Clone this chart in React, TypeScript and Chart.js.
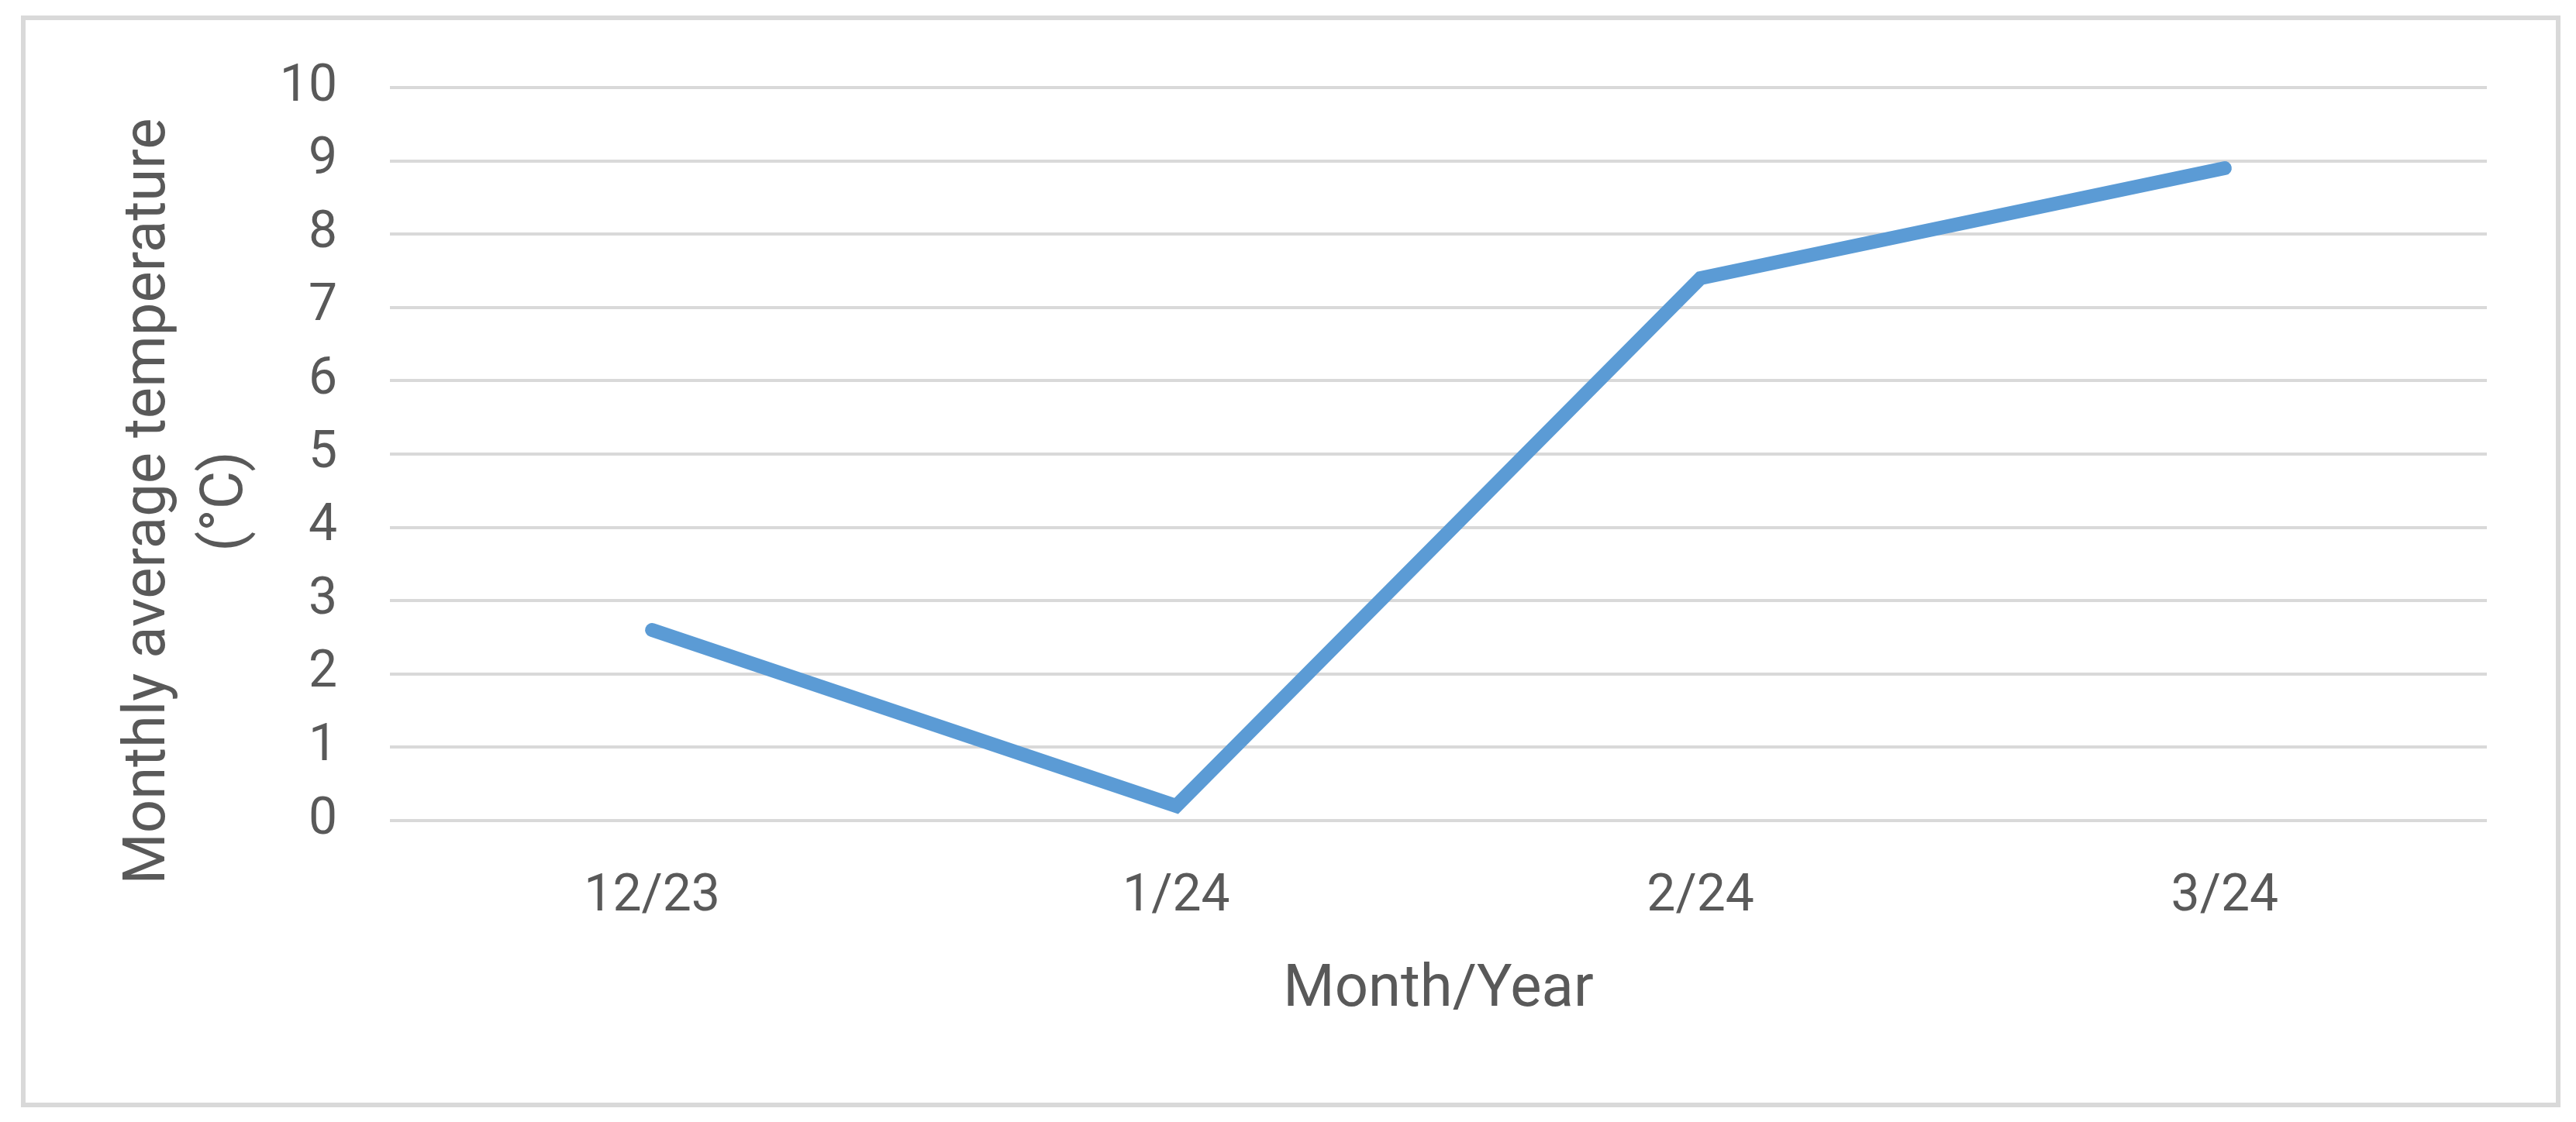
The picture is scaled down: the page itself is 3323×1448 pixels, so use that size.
import React, { useEffect, useRef } from "react";
import { Chart, registerables } from "chart.js";

Chart.register(...registerables);

const categories = ["12/23", "1/24", "2/24", "3/24"];
const temperatures = [2.6, 0.2, 7.4, 8.9];
const yTitleLines = ["Monthly average temperature", "(°C)"];
const xTitleText = "Month/Year";
const yMin = 0;
const yMax = 10;
const yStep = 1;

const W = 3323;
const H = 1448;
const TEXT = "#595959";
const GRID = "#d9d9d9";
const LINE = "#5b9bd5";

export default function App() {
  const ref = useRef<HTMLCanvasElement | null>(null);

  useEffect(() => {
    const canvas = ref.current;
    if (!canvas) return;

    const frame = {
      id: "frame",
      beforeDraw(chart: any) {
        const { ctx } = chart;
        ctx.save();
        ctx.fillStyle = "#ffffff";
        ctx.fillRect(0, 0, chart.width, chart.height);
        ctx.strokeStyle = GRID;
        ctx.lineWidth = 6;
        ctx.strokeRect(30, 23, 3270, 1403);
        ctx.restore();
      },
    };

    const yTitle = {
      id: "yTitle",
      afterDraw(chart: any) {
        const { ctx, chartArea } = chart;
        const cy = (chartArea.top + chartArea.bottom) / 2 + 61;
        ctx.save();
        ctx.font = "76px Roboto";
        ctx.fillStyle = TEXT;
        ctx.textAlign = "center";
        ctx.textBaseline = "alphabetic";
        yTitleLines.forEach((t, i) => {
          ctx.save();
          ctx.translate(chartArea.left - 291 + i * 100, cy);
          ctx.rotate(-Math.PI / 2);
          ctx.fillText(t, 0, 0);
          ctx.restore();
        });
        ctx.restore();
      },
    };

    const chart = new Chart(canvas, {
      type: "line",
      data: {
        labels: categories,
        datasets: [
          {
            data: temperatures,
            borderColor: LINE,
            backgroundColor: LINE,
            borderWidth: 18,
            borderCapStyle: "round",
            borderJoinStyle: "miter",
            pointRadius: 0,
            pointHoverRadius: 0,
            tension: 0,
            fill: false,
          },
        ],
      },
      options: {
        responsive: false,
        animation: false,
        devicePixelRatio: 1,
        layout: { padding: { left: 0, top: 113, right: 115, bottom: 0 } },
        plugins: {
          legend: { display: false },
          tooltip: { enabled: false },
          title: { display: false },
        },
        scales: {
          x: {
            type: "category",
            offset: true,
            grid: { display: false, drawTicks: false },
            border: { display: false },
            ticks: {
              color: TEXT,
              padding: 60,
              maxRotation: 0,
              font: { family: "Roboto", size: 66 },
            },
            title: {
              display: true,
              text: xTitleText,
              color: TEXT,
              font: { family: "Roboto", size: 76 },
              padding: { top: 0, bottom: 123 },
            },
            afterFit(scale: any) {
              scale.height = 389;
            },
          },
          y: {
            min: yMin,
            max: yMax,
            grid: { color: GRID, lineWidth: 4, drawTicks: false },
            border: { display: false },
            ticks: {
              stepSize: yStep,
              color: TEXT,
              padding: 68,
              font: { family: "Roboto", size: 66 },
            },
            afterFit(scale: any) {
              scale.width = 503;
            },
          },
        },
      },
      plugins: [frame, yTitle],
    } as any);

    return () => chart.destroy();
  }, []);

  return (
    <div style={{ position: "absolute", left: 0, top: 0, width: W, height: H }}>
      <canvas ref={ref} width={W} height={H} style={{ display: "block", width: W, height: H }} />
    </div>
  );
}
